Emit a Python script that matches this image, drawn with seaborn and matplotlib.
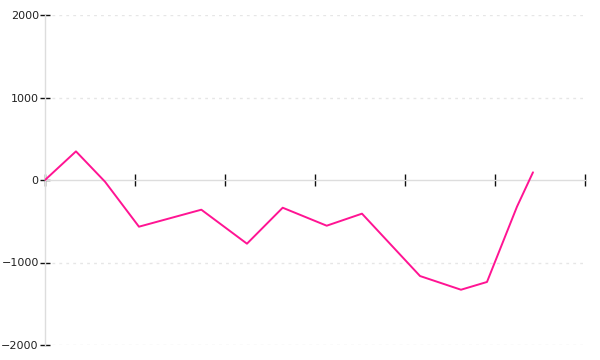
import matplotlib
matplotlib.use("Agg")
import matplotlib.pyplot as plt
import seaborn as sns
import pandas as pd

# data (x in tick units, y values)
x_vals = [0.0, 0.344, 0.667, 1.044, 1.737, 2.244, 2.641, 3.130, 3.522, 4.167, 4.622, 4.911, 5.244, 5.422]
y_vals = [0, 347, -21, -566, -360, -772, -336, -554, -408, -1164, -1330, -1236, -324, 93]
y_ticks = [-2000, -1000, 0, 1000, 2000]
x_ticks = [0, 1, 2, 3, 4, 5, 6]

sns.set_style("white")
plt.rcParams['font.family'] = ['DejaVu Sans']

df = pd.DataFrame({"x": x_vals, "y": y_vals})

fig = plt.figure(figsize=(6, 3.6), dpi=100)
ax = fig.add_axes([45/600, 15/360, 540/600, 330/360])

ax.set_ylim(-2000, 2000)
ax.set_xlim(0, 6)
ax.set_yticks(y_ticks)
ax.set_xticks(x_ticks)
ax.set_xticklabels([])
ax.set_yticklabels([str(v).replace('-', '\u2212') for v in y_ticks])

for yv in y_ticks:
    if yv != 0:
        ax.axhline(yv, color='#e6e6e6', lw=1, ls=(0, (2, 3)), zorder=0)

sns.lineplot(data=df, x="x", y="y", color='#ff1493', lw=1.4, ax=ax, zorder=3)

for s in ['top', 'right']:
    ax.spines[s].set_visible(False)
ax.spines['left'].set_color('#dddddd')
ax.spines['left'].set_linewidth(1)
ax.spines['bottom'].set_position(('data', 0))
ax.spines['bottom'].set_color('#dddddd')
ax.spines['bottom'].set_linewidth(1)

ax.tick_params(axis='y', direction='inout', length=7, width=1, color='#111111',
               labelsize=8, labelcolor='#222222', pad=1, left=True)
ax.tick_params(axis='x', direction='inout', length=9, width=1, color='#111111',
               bottom=True, labelbottom=False)
ax.set_xlabel('')
ax.set_ylabel('')
if ax.get_legend():
    ax.get_legend().remove()

fig.savefig('out.png', dpi=100, facecolor='white')
